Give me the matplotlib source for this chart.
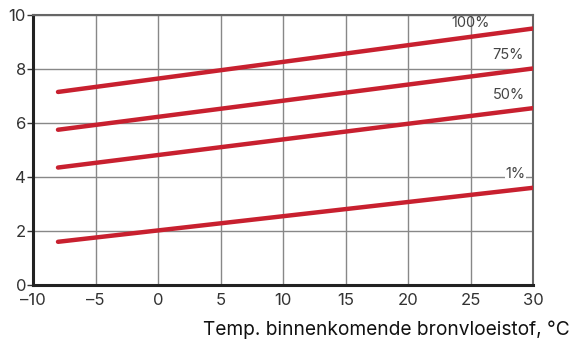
import matplotlib
matplotlib.use("Agg")
import matplotlib.pyplot as plt

temps = [-8, 30]
series_names = ["100%", "75%", "50%", "1%"]
values_100 = [7.15, 9.5]
values_75 = [5.75, 8.02]
values_50 = [4.35, 6.55]
values_1 = [1.6, 3.6]
label_pos_x = [25.0, 28.0, 28.1, 28.6]
label_pos_y = [9.7, 8.52, 7.05, 4.1]
xticks = [-10, -5, 0, 5, 10, 15, 20, 25, 30]
yticks = [0, 2, 4, 6, 8, 10]

plt.rcParams['font.family'] = ['Inter', 'DejaVu Sans']

fig = plt.figure(figsize=(5.73, 3.47), dpi=100)
ax = fig.add_axes([33/573, 1-285/347, 500/573, 270/347])

red = "#c8202f"
for vals in [values_100, values_75, values_50, values_1]:
    ax.plot(temps, vals, color=red, lw=3.2, solid_capstyle='round', zorder=3)

for name, lx, ly in zip(series_names, label_pos_x, label_pos_y):
    bbox = dict(facecolor='white', edgecolor='none', pad=0.5) if name == "1%" else None
    ax.text(lx, ly, name, ha='center', va='center', fontsize=10.5, color='#444444', bbox=bbox, zorder=4)

ax.set_xlim(-10, 30)
ax.set_ylim(0, 10)
ax.set_xticks(xticks)
ax.set_yticks(yticks)
ax.set_xticklabels([str(t).replace('-', '\u2013') for t in xticks])
ax.grid(True, color='#888888', lw=1.0, zorder=1)
ax.tick_params(axis='both', labelsize=12, colors='#333333', length=4, width=1, pad=1)
ax.tick_params(axis='x', length=0, pad=5.5)
for s in ['top', 'right']:
    ax.spines[s].set_color('#666666')
    ax.spines[s].set_linewidth(1.5)
for s in ['left', 'bottom']:
    ax.spines[s].set_color('#222222')
    ax.spines[s].set_linewidth(2.2)

fig.text(570/573, 1-330/347, "Temp. binnenkomende bronvloeistof, °C", ha='right', va='center', fontsize=13.8, color='#111111')

fig.savefig("out.png", dpi=100)
